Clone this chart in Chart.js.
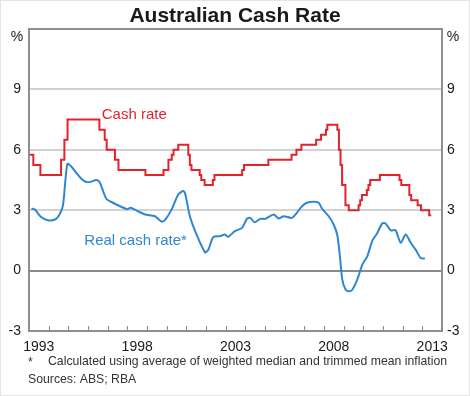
<!DOCTYPE html>
<html><head><meta charset="utf-8">
<script src="https://cdn.jsdelivr.net/npm/chart.js@4/dist/chart.umd.min.js"></script>
<style>html,body{margin:0;padding:0;background:#fff}#wrap{width:470px;height:396px}</style>
</head><body><div id="wrap"><canvas id="c" width="470" height="396"></canvas></div>
<script>
const chartTitle = 'Australian Cash Rate';
const cashLabel = 'Cash rate';
const realLabel = 'Real cash rate*';
const footnoteMark = '*';
const footnoteText = 'Calculated using average of weighted median and trimmed mean inflation';
const sourcesText = 'Sources: ABS; RBA';
const unitLabel = '%';

const cashDates = [1993.0, 1993.22, 1993.58, 1994.63, 1994.8, 1994.96, 1996.58, 1996.85, 1996.95, 1997.37, 1997.55, 1998.92, 1999.84, 2000.09, 2000.26, 2000.35, 2000.59, 2001.1, 2001.18, 2001.26, 2001.68, 2001.76, 2001.93, 2002.35, 2002.43, 2003.84, 2003.93, 2005.17, 2006.35, 2006.6, 2006.85, 2007.6, 2007.85, 2008.1, 2008.17, 2008.68, 2008.76, 2008.84, 2008.92, 2009.09, 2009.26, 2009.76, 2009.84, 2009.93, 2010.18, 2010.26, 2010.35, 2010.84, 2011.84, 2011.93, 2012.34, 2012.43, 2012.76, 2012.93, 2013.35, 2013.45];
const cashValues = [5.75, 5.25, 4.75, 5.5, 6.5, 7.5, 7.0, 6.5, 6.0, 5.5, 5.0, 4.75, 5.0, 5.5, 5.75, 6.0, 6.25, 5.75, 5.25, 5.0, 4.75, 4.5, 4.25, 4.5, 4.75, 5.0, 5.25, 5.5, 5.75, 6.0, 6.25, 6.5, 6.75, 7.0, 7.25, 7.0, 6.0, 5.25, 4.25, 3.25, 3.0, 3.25, 3.5, 3.75, 4.0, 4.25, 4.5, 4.75, 4.5, 4.25, 3.75, 3.5, 3.25, 3.0, 2.75, 2.75];

const realDates = [1993.12, 1993.3, 1993.6, 1993.95, 1994.35, 1994.56, 1994.73, 1994.95, 1995.15, 1995.4, 1995.66, 1995.91, 1996.17, 1996.42, 1996.6, 1996.93, 1997.27, 1997.69, 1998.0, 1998.15, 1998.47, 1998.9, 1999.4, 1999.75, 1999.92, 2000.25, 2000.59, 2000.84, 2000.95, 2001.18, 2001.52, 2001.95, 2002.12, 2002.37, 2002.71, 2002.96, 2003.13, 2003.47, 2003.83, 2004.08, 2004.25, 2004.47, 2004.76, 2005.01, 2005.44, 2005.69, 2005.95, 2006.37, 2006.62, 2006.88, 2007.13, 2007.47, 2007.73, 2007.9, 2008.24, 2008.49, 2008.67, 2008.81, 2008.93, 2009.1, 2009.27, 2009.44, 2009.69, 2009.95, 2010.2, 2010.45, 2010.71, 2010.96, 2011.13, 2011.39, 2011.64, 2011.9, 2012.15, 2012.41, 2012.66, 2012.91, 2013.13];
const realValues = [3.08, 3.03, 2.67, 2.5, 2.55, 2.8, 3.25, 5.3, 5.17, 4.86, 4.56, 4.4, 4.42, 4.5, 4.38, 3.57, 3.37, 3.17, 3.05, 3.12, 2.98, 2.79, 2.7, 2.43, 2.52, 3.03, 3.78, 3.95, 3.78, 2.7, 1.79, 0.91, 1.04, 1.66, 1.71, 1.79, 1.68, 1.96, 2.12, 2.57, 2.62, 2.4, 2.57, 2.57, 2.79, 2.59, 2.7, 2.62, 2.87, 3.2, 3.37, 3.42, 3.37, 3.08, 2.7, 2.29, 1.79, 0.71, -0.45, -0.95, -1.03, -0.95, -0.45, 0.3, 0.71, 1.46, 1.87, 2.34, 2.34, 2.0, 2.0, 1.38, 1.79, 1.38, 1.04, 0.63, 0.6];

const yTickValues = [-3, 0, 3, 6, 9, 12];
const yearTickValues = [1994, 1995, 1996, 1997, 1998, 1999, 2000, 2001, 2002, 2003, 2004, 2005, 2006, 2007, 2008, 2009, 2010, 2011, 2012, 2013];
const yearLabels = [1993, 1998, 2003, 2008, 2013];
const xMin = 1993, xMax = 2014, yMin = -3, yMax = 12;
const cashLabelPos = [1998.35, 7.76];
const realLabelPos = [1998.42, 1.49];

const RED = '#e2232c', BLUE = '#2f86d2', FRAME = '#8f8f8f', GRID = '#d2d2d2', ZERO = '#8a8a8a', TEXT = '#1a1a1a';
const FONT = 'Arial, "Liberation Sans", sans-serif';

const decor = {
  id: 'decor',
  beforeDraw(chart) {
    const ctx = chart.ctx;
    ctx.save();
    ctx.fillStyle = '#fff';
    ctx.fillRect(0, 0, chart.width, chart.height);
    ctx.strokeStyle = '#e4e4e4';
    ctx.lineWidth = 1;
    ctx.strokeRect(0.5, 0.5, chart.width - 1, chart.height - 1);
    ctx.restore();
  },
  afterDatasetsDraw(chart) {
    const ctx = chart.ctx, a = chart.chartArea;
    const xs = chart.scales.x, ys = chart.scales.y;
    ctx.save();
    ctx.strokeStyle = FRAME; ctx.lineWidth = 2;
    ctx.strokeRect(a.left, a.top, a.right - a.left, a.bottom - a.top);
    ctx.lineWidth = 1.2;
    yearTickValues.forEach(v => {
      const px = Math.round(xs.getPixelForValue(v)) + 0.5;
      ctx.beginPath(); ctx.moveTo(px, a.bottom); ctx.lineTo(px, a.bottom - 5); ctx.stroke();
    });
    ctx.font = '15px ' + FONT;
    ctx.textAlign = 'center'; ctx.textBaseline = 'middle';
    ctx.fillStyle = RED;
    ctx.fillText(cashLabel, xs.getPixelForValue(cashLabelPos[0]), ys.getPixelForValue(cashLabelPos[1]));
    ctx.fillStyle = BLUE;
    ctx.fillText(realLabel, xs.getPixelForValue(realLabelPos[0]), ys.getPixelForValue(realLabelPos[1]));
    ctx.fillStyle = TEXT;
    ctx.font = 'bold 21px ' + FONT;
    ctx.fillText(chartTitle, chart.width / 2, 16);
    ctx.font = '14px ' + FONT;
    ctx.fillText(unitLabel, 17, 37);
    ctx.fillText(unitLabel, 453, 37);
    ctx.textAlign = 'left';
    ctx.font = '12.25px ' + FONT;
    ctx.fillStyle = '#333';
    ctx.fillText(footnoteMark, 28, 363);
    ctx.fillText(footnoteText, 48, 362);
    ctx.fillText(sourcesText, 28, 380);
    ctx.restore();
  }
};

const yTicksLeft = {
  font: { size: 14, family: FONT }, color: TEXT, padding: 8,
  callback: v => (v === yMax ? '' : String(v))
};
const yTicksRight = {
  font: { size: 14, family: FONT }, color: TEXT, padding: 5,
  callback: v => (v === yMax ? '' : String(v))
};

new Chart(document.getElementById('c'), {
  type: 'line',
  data: {
    datasets: [
      { label: cashLabel, data: cashDates.map((x, i) => ({ x, y: cashValues[i] })), borderColor: RED, borderWidth: 2, stepped: 'before', pointRadius: 0, xAxisID: 'x', yAxisID: 'y' },
      { label: realLabel, data: realDates.map((x, i) => ({ x, y: realValues[i] })), borderColor: BLUE, borderWidth: 2, tension: 0.25, pointRadius: 0, xAxisID: 'x', yAxisID: 'y' }
    ]
  },
  options: {
    responsive: false, animation: false, devicePixelRatio: 1,
    layout: { padding: { top: 29, right: 0, bottom: 0, left: 0 } },
    plugins: { legend: { display: false }, title: { display: false }, tooltip: { enabled: false } },
    scales: {
      x: { type: 'linear', min: xMin, max: xMax, display: false },
      xl: {
        type: 'linear', position: 'bottom', min: xMin - 0.5, max: xMax - 0.5,
        grid: { display: false, drawTicks: false, tickLength: 0 }, border: { display: false },
        afterBuildTicks: ax => { ax.ticks = yearLabels.map(v => ({ value: v })); },
        afterFit: ax => { ax.height = 65; },
        ticks: { font: { size: 14, family: FONT }, color: TEXT, padding: 8, autoSkip: false, maxRotation: 0, callback: v => String(v) }
      },
      y: {
        type: 'linear', position: 'left', min: yMin, max: yMax,
        afterBuildTicks: ax => { ax.ticks = yTickValues.map(v => ({ value: v })); },
        afterFit: ax => { ax.width = 29; },
        border: { display: false },
        grid: { drawTicks: false, tickLength: 0, lineWidth: 2, color: c => (c.tick && c.tick.value === 0 ? ZERO : (c.tick && (c.tick.value === yMin || c.tick.value === yMax) ? 'rgba(0,0,0,0)' : GRID)) },
        ticks: yTicksLeft
      },
      y2: {
        type: 'linear', position: 'right', min: yMin, max: yMax,
        afterBuildTicks: ax => { ax.ticks = yTickValues.map(v => ({ value: v })); },
        afterFit: ax => { ax.width = 28; },
        border: { display: false },
        grid: { display: false, drawTicks: false, tickLength: 0 },
        ticks: yTicksRight
      }
    }
  },
  plugins: [decor]
});
</script>
</body></html>
